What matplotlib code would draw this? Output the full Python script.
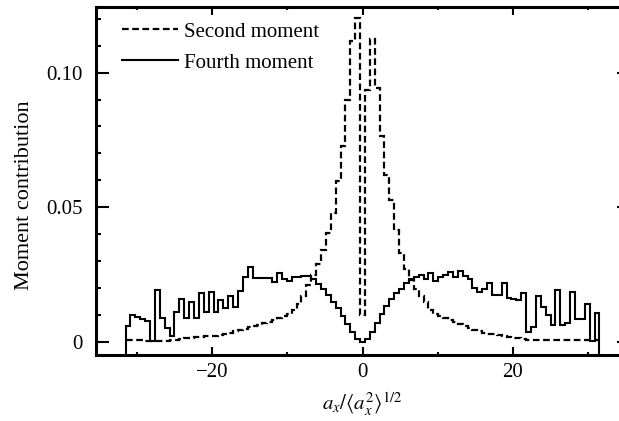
import numpy as np
import matplotlib
matplotlib.use("Agg")
import matplotlib.pyplot as plt
from matplotlib.ticker import MultipleLocator

# Histogram bins in units of a_x / <a_x^2>^{1/2}
x_min, x_max, n_bins = -31.5, 31.5, 97
bin_edges = np.linspace(x_min, x_max, n_bins + 1)

# Contribution of each bin to the second moment
second_moment = [
    0.0007, 0.0008, 0.0006, 0.0007, 0.0005, 0.0004, 0.0004, 0.0003, 0.0004,
    0.0006, 0.0009, 0.0012, 0.0014, 0.0016, 0.0018, 0.0020, 0.0021, 0.0023,
    0.0024, 0.0026, 0.0028, 0.0033, 0.0039, 0.0045, 0.0050, 0.0055, 0.0060,
    0.0064, 0.0070, 0.0076, 0.0082, 0.0088, 0.0095, 0.0105, 0.0120, 0.0140,
    0.0170, 0.0210, 0.0250, 0.0290, 0.0340, 0.0405, 0.0480, 0.0596, 0.0726,
    0.0900, 0.1116, 0.1203, 0.0100, 0.0937, 0.1123, 0.0944, 0.0763, 0.0620,
    0.0528, 0.0416, 0.0330, 0.0270, 0.0230, 0.0195, 0.0170, 0.0150, 0.0120,
    0.0105, 0.0095, 0.0088, 0.0082, 0.0075, 0.0068, 0.0060, 0.0053, 0.0046,
    0.0040, 0.0035, 0.0031, 0.0028, 0.0026, 0.0022, 0.0019, 0.0016, 0.0014,
    0.0011, 0.0009, 0.0007,
    0.0007, 0.0006, 0.0008, 0.0007, 0.0006, 0.0008, 0.0007, 0.0009, 0.0007,
    0.0006, 0.0008, 0.0007, 0.0006,
]

# Contribution of each bin to the fourth moment
fourth_moment = [
    0.0058, 0.0100, 0.0094, 0.0087, 0.0078, 0.0004, 0.0193, 0.0090, 0.0052,
    0.0022, 0.0113, 0.0160, 0.0090, 0.0150, 0.0090, 0.0180, 0.0113, 0.0186,
    0.0113, 0.0156, 0.0126, 0.0172, 0.0131, 0.0190, 0.0243, 0.0278, 0.0237,
    0.0237, 0.0237, 0.0237, 0.0224, 0.0255, 0.0232, 0.0225, 0.0243, 0.0240,
    0.0244, 0.0246, 0.0232, 0.0215, 0.0195, 0.0173, 0.0150, 0.0125, 0.0097,
    0.0068, 0.0038, 0.0010, 0.0000, 0.0010, 0.0038, 0.0072, 0.0105, 0.0135,
    0.0160, 0.0180, 0.0197, 0.0220, 0.0233, 0.0240, 0.0250, 0.0235, 0.0255,
    0.0228, 0.0243, 0.0250, 0.0258, 0.0243, 0.0265, 0.0245, 0.0235, 0.0200,
    0.0187, 0.0195, 0.0218, 0.0175, 0.0175, 0.0218, 0.0162, 0.0158, 0.0156,
    0.0181, 0.0038, 0.0057, 0.0169, 0.0131, 0.0100, 0.0063, 0.0193, 0.0063,
    0.0070, 0.0185, 0.0085, 0.0085, 0.0140, 0.0003, 0.0107,
]

x_ticks = [-20, 0, 20]
y_ticks = [0, 0.05, 0.10]
y_tick_labels = ["0", "0.05", "0.10"]

plt.rcParams["font.family"] = ["Liberation Serif", "DejaVu Serif"]
plt.rcParams["mathtext.fontset"] = "stix"
plt.rcParams["axes.unicode_minus"] = True

fig = plt.figure(figsize=(6.19, 4.21), dpi=100)
ax = fig.add_axes([95.5 / 619, 66 / 421, 534 / 619, 348 / 421])

ax.set_xlim(-35.5, 35.5)
ax.set_ylim(-0.00483, 0.12435)

ax.stairs(second_moment, bin_edges, baseline=None, color="black",
          lw=1.6, ls=(0, (3.0, 1.6)), label="Second moment")
ax.stairs(fourth_moment, bin_edges, baseline=-0.006, color="black",
          lw=1.5, label="Fourth moment")

ax.set_xticks(x_ticks)
ax.set_xticklabels([f"{t:d}".replace("-", "\u2212") for t in x_ticks])
ax.xaxis.set_minor_locator(MultipleLocator(10))
ax.set_yticks(y_ticks)
ax.set_yticklabels(y_tick_labels)
ax.yaxis.set_minor_locator(MultipleLocator(0.01))

ax.tick_params(axis="both", which="both", direction="in",
               top=True, right=True, labelsize=15, width=1.5)
ax.tick_params(axis="x", which="major", length=6, pad=6)
ax.tick_params(axis="x", which="minor", length=2.5)
ax.tick_params(axis="y", which="major", length=9.5, pad=9)
ax.tick_params(axis="y", which="minor", length=3.6)

for spine in ax.spines.values():
    spine.set_linewidth(2.2)

ax.set_xlabel(r"$a_x/\langle a_x^2\rangle^{1/2}$", fontsize=15, labelpad=6)
ax.set_ylabel("Moment contribution", fontsize=16)
ax.yaxis.set_label_coords(-0.116, 0.46)

ax.legend(loc="upper left", bbox_to_anchor=(0.049, 0.957), frameon=False,
          fontsize=15, handlelength=2.7, handletextpad=0.3,
          labelspacing=0.55, borderaxespad=0, borderpad=0)

fig.savefig("out.png", dpi=100)
